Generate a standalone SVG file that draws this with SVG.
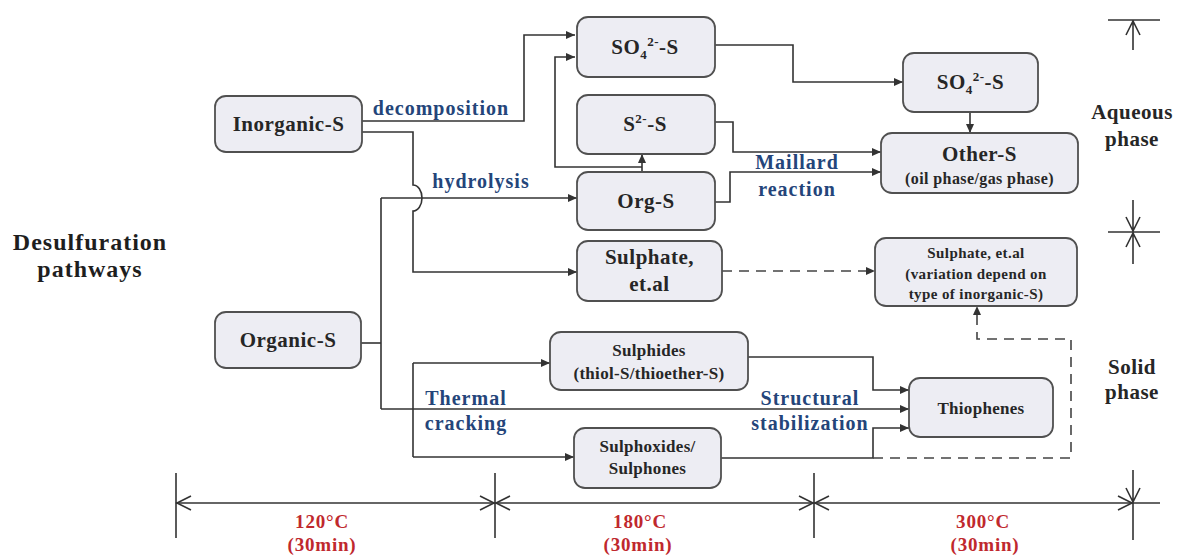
<svg xmlns="http://www.w3.org/2000/svg" width="1181" height="557" viewBox="0 0 1181 557">
  <style>
    text { font-family: "Liberation Serif", "Times New Roman", serif; font-weight: bold; text-anchor: middle; }
    .box { fill: #ededf3; stroke: #505050; stroke-width: 1.8; }
    .nl { font-size: 21px; fill: #262626; letter-spacing: 0.5px; }
    .ns { font-size: 17px; fill: #262626; letter-spacing: 0.3px; }
    .nxs { font-size: 15px; fill: #262626; letter-spacing: 0.4px; }
    .lbl { font-size: 20px; fill: #24457a; letter-spacing: 1px; }
    .ph { font-size: 21px; fill: #262626; letter-spacing: 0.5px; }
    .title { font-size: 24px; fill: #1e1e1e; letter-spacing: 1px; }
    .temp { font-size: 19px; fill: #c0282d; letter-spacing: 0.8px; }
    .ln { fill: none; stroke: #333; stroke-width: 1.6; }
    .arr { fill: none; stroke: #333; stroke-width: 1.6; marker-end: url(#ah); }
    .dash { fill: none; stroke: #444; stroke-width: 1.6; stroke-dasharray: 10 7; }
    .axis { fill: none; stroke: #333; stroke-width: 1.6; }
  </style>
  <defs>
    <marker id="ah" viewBox="0 0 9 8" refX="9" refY="4" markerWidth="9" markerHeight="8" markerUnits="userSpaceOnUse" orient="auto">
      <path d="M0,0 L9,4 L0,8 z" fill="#333"/>
    </marker>
  </defs>

  <rect width="1181" height="557" fill="#ffffff"/>

  <!-- heading on the left -->
  <text class="title" x="90" y="250">Desulfuration</text>
  <text class="title" x="90" y="277">pathways</text>

  <!-- connectors -->
  <g id="connectors">
    <!-- Inorganic-S: decomposition -->
    <path class="arr" d="M362 121 H524 V35 H575"/>
    <!-- Inorganic-S: hydrolysis (hops over the Org-S feed) -->
    <path class="arr" d="M362 132 H413 V185 A9 13 0 0 1 413 211 V272 H577"/>
    <!-- Organic-S trunk -->
    <path class="ln" d="M361 343 H381"/>
    <path class="ln" d="M381 198 V409"/>
    <path class="arr" d="M381 198 H577"/>
    <path class="arr" d="M381 409 H909"/>
    <!-- Org-S to S2- and SO4 -->
    <path class="arr" d="M642 172 V154"/>
    <path class="arr" d="M642 167 H555 V57 H575"/>
    <!-- SO4 to SO4 (aqueous) -->
    <path class="arr" d="M715 45 H793 V82 H903"/>
    <path class="arr" d="M970 112 V133"/>
    <!-- Maillard reaction -->
    <path class="arr" d="M715 122 H733 V152 H881"/>
    <path class="arr" d="M715 202 H730 V172 H881"/>
    <!-- Sulphate dashed transfer -->
    <path class="dash" d="M722 271 H866"/>
    <path d="M866 267 L875 271 L866 275 z" fill="#333"/>
    <!-- thermal cracking branch -->
    <path class="ln" d="M413 363 V457"/>
    <path class="arr" d="M413 363 H550"/>
    <path class="arr" d="M413 457 H574"/>
    <!-- structural stabilization -->
    <path class="arr" d="M748 357 H873 V390 H909"/>
    <path class="arr" d="M721 458 H873 V428 H909"/>
    <!-- dashed return to solid sulphate -->
    <path class="dash" d="M873 458 H1071 V339 H977 V315"/>
    <path d="M973 315 L977 306 L981 315 z" fill="#333"/>
  </g>

  <!-- nodes -->
  <g id="n-inorganic">
    <rect class="box" x="215" y="96" width="147" height="56" rx="11"/>
    <text class="nl" x="288.5" y="131">Inorganic-S</text>
  </g>
  <g id="n-organic">
    <rect class="box" x="215" y="312" width="146" height="56" rx="11"/>
    <text class="nl" x="288" y="347">Organic-S</text>
  </g>
  <g id="n-so4">
    <rect class="box" x="577" y="17" width="138" height="60" rx="11"/>
    <text class="nl" x="645" y="54">SO<tspan font-size="13" dy="5">4</tspan><tspan font-size="13" dy="-13">2-</tspan><tspan dy="8">-S</tspan></text>
  </g>
  <g id="n-s2">
    <rect class="box" x="577" y="95" width="138" height="59" rx="11"/>
    <text class="nl" x="645" y="131">S<tspan font-size="13" dy="-8">2-</tspan><tspan dy="8">-S</tspan></text>
  </g>
  <g id="n-orgs">
    <rect class="box" x="577" y="172" width="138" height="58" rx="11"/>
    <text class="nl" x="646" y="208">Org-S</text>
  </g>
  <g id="n-sulphate">
    <rect class="box" x="577" y="241" width="145" height="60" rx="11"/>
    <text class="nl" x="649.5" y="264">Sulphate,</text>
    <text class="nl" x="649.5" y="291">et.al</text>
  </g>
  <g id="n-so4-aq">
    <rect class="box" x="903" y="53" width="135" height="59" rx="11"/>
    <text class="nl" x="970.5" y="89">SO<tspan font-size="13" dy="5">4</tspan><tspan font-size="13" dy="-13">2-</tspan><tspan dy="8">-S</tspan></text>
  </g>
  <g id="n-other">
    <rect class="box" x="881" y="133" width="197" height="60" rx="11"/>
    <text class="nl" x="979.5" y="161">Other-S</text>
    <text class="nxs" x="979.5" y="184" style="font-size:16px">(oil phase/gas phase)</text>
  </g>
  <g id="n-sulphate-solid">
    <rect class="box" x="875" y="238" width="202" height="68" rx="11"/>
    <text class="nxs" x="976" y="258">Sulphate, et.al</text>
    <text class="nxs" x="976" y="279">(variation depend on</text>
    <text class="nxs" x="976" y="299">type of inorganic-S)</text>
  </g>
  <g id="n-sulphides">
    <rect class="box" x="550" y="332" width="198" height="58" rx="11"/>
    <text class="ns" x="649" y="356">Sulphides</text>
    <text class="ns" x="649" y="379">(thiol-S/thioether-S)</text>
  </g>
  <g id="n-sulphoxides">
    <rect class="box" x="574" y="428" width="147" height="60" rx="11"/>
    <text class="ns" x="647.5" y="452">Sulphoxides/</text>
    <text class="ns" x="647.5" y="474">Sulphones</text>
  </g>
  <g id="n-thiophenes">
    <rect class="box" x="909" y="378" width="144" height="59" rx="11"/>
    <text class="ns" x="981" y="414">Thiophenes</text>
  </g>

  <!-- pathway labels -->
  <g id="labels">
    <text class="lbl" x="441" y="115">decomposition</text>
    <text class="lbl" x="481" y="188">hydrolysis</text>
    <text class="lbl" x="797" y="169">Maillard</text>
    <text class="lbl" x="797" y="196">reaction</text>
    <text class="lbl" x="466" y="405">Thermal</text>
    <text class="lbl" x="466" y="430">cracking</text>
    <text class="lbl" x="810" y="405">Structural</text>
    <text class="lbl" x="810" y="430">stabilization</text>
  </g>

  <!-- phase axis on the right -->
  <g id="phase-axis">
    <path class="axis" d="M1108 20 H1160 M1133 20 V50 M1126 35 L1133 21 L1140 35"/>
    <path class="axis" d="M1108 232 H1160 M1133 200 V264 M1126 217 L1133 231 L1140 217 M1126 247 L1133 233 L1140 247"/>
    <path class="axis" d="M1133 470 V540 M1126 488 L1133 502 L1140 488"/>
    <text class="ph" x="1132" y="119">Aqueous</text>
    <text class="ph" x="1132" y="146">phase</text>
    <text class="ph" x="1132" y="374">Solid</text>
    <text class="ph" x="1132" y="399">phase</text>
  </g>

  <!-- temperature timeline -->
  <g id="timeline">
    <path class="axis" d="M176 503 H1160"/>
    <path class="axis" d="M176 473 V538 M495 473 V538 M814 473 V538"/>
    <path class="axis" d="M191 496 L177 503 L191 510"/>
    <path class="axis" d="M480 496 L494 503 L480 510 M510 496 L496 503 L510 510"/>
    <path class="axis" d="M799 496 L813 503 L799 510 M829 496 L815 503 L829 510"/>
    <path class="axis" d="M1118 496 L1132 503 L1118 510"/>
    <text class="temp" x="322" y="528">120°C</text>
    <text class="temp" x="322" y="551">(30min)</text>
    <text class="temp" x="640" y="528">180°C</text>
    <text class="temp" x="638" y="551">(30min)</text>
    <text class="temp" x="983" y="528">300°C</text>
    <text class="temp" x="985" y="551">(30min)</text>
  </g>
</svg>
